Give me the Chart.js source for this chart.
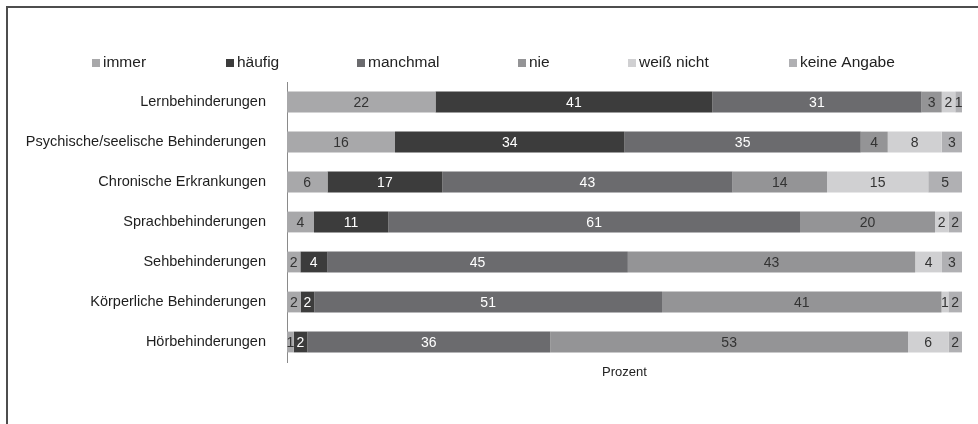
<!DOCTYPE html>
<html>
<head>
<meta charset="utf-8">
<script src="https://cdn.jsdelivr.net/npm/chart.js@4/dist/chart.umd.min.js"></script>
<style>
  html, body { margin: 0; padding: 0; background: #fff; }
  #wrap { position: relative; width: 978px; height: 424px; overflow: hidden; }
  #frame { position: absolute; left: 6px; top: 6px; width: 1200px; height: 600px;
           border-left: 2px solid #4d4d4d; border-top: 2px solid #4d4d4d; pointer-events: none; }
  canvas { position: absolute; left: 0; top: 0; }
</style>
</head>
<body>
<div id="wrap">
  <canvas id="c" width="978" height="424"></canvas>
  <div id="frame"></div>
</div>
<script>
const categories = [
  "Lernbehinderungen",
  "Psychische/seelische Behinderungen",
  "Chronische Erkrankungen",
  "Sprachbehinderungen",
  "Sehbehinderungen",
  "Körperliche Behinderungen",
  "Hörbehinderungen"
];
const seriesNames = ["immer", "häufig", "manchmal", "nie", "weiß nicht", "keine Angabe"];
const immer       = [22, 16,  6,  4,  2,  2,  1];
const haeufig     = [41, 34, 17, 11,  4,  2,  2];
const manchmal    = [31, 35, 43, 61, 45, 51, 36];
const nie         = [ 3,  4, 14, 20, 43, 41, 53];
const weissNicht  = [ 2,  8, 15,  2,  4,  1,  6];
const keineAngabe = [ 1,  3,  5,  2,  3,  2,  2];
const axisTitle = "Prozent";

const seriesValues = [immer, haeufig, manchmal, nie, weissNicht, keineAngabe];
// 100% stacked: each row is scaled to its own total (rounded values may sum to 99/101)
const rowTotals = categories.map((_, i) => seriesValues.reduce((s, arr) => s + arr[i], 0));
const colors = ["#a8a8aa", "#3c3c3c", "#6b6b6e", "#949496", "#d0d0d2", "#b0b0b3"];
const labelColors = ["#333", "#fff", "#fff", "#333", "#333", "#333"];
const legendX = [92, 226, 357, 518, 628, 789];
const FONT = '"Liberation Sans", Arial, sans-serif';

const valueLabels = {
  id: 'valueLabels',
  afterDatasetsDraw(chart) {
    const ctx = chart.ctx;
    ctx.save();
    ctx.font = '14px ' + FONT;
    ctx.textAlign = 'center';
    ctx.textBaseline = 'middle';
    chart.data.datasets.forEach((ds, di) => {
      const meta = chart.getDatasetMeta(di);
      meta.data.forEach((el, i) => {
        ctx.fillStyle = labelColors[di];
        ctx.fillText(String(seriesValues[di][i]), (el.x + el.base) / 2, el.y + 1);
      });
    });
    ctx.restore();
  }
};

const customLegend = {
  id: 'customLegend',
  afterDraw(chart) {
    const ctx = chart.ctx;
    ctx.save();
    ctx.font = '15.5px ' + FONT;
    ctx.textBaseline = 'middle';
    ctx.textAlign = 'left';
    seriesNames.forEach((name, i) => {
      const x = legendX[i];
      ctx.fillStyle = colors[i];
      ctx.fillRect(x, 59, 8, 8);
      ctx.fillStyle = '#222';
      ctx.fillText(name, x + 11, 63);
    });
    ctx.restore();
  }
};

new Chart(document.getElementById('c'), {
  type: 'bar',
  data: {
    labels: categories,
    datasets: seriesNames.map((n, i) => ({
      label: n,
      data: seriesValues[i].map((v, j) => v / rowTotals[j] * 100),
      backgroundColor: colors[i],
      borderWidth: 0,
      barPercentage: 0.52,
      categoryPercentage: 1
    }))
  },
  options: {
    indexAxis: 'y',
    responsive: false,
    animation: false,
    layout: { padding: { left: 0, right: 16, top: 82, bottom: 44 } },
    plugins: { legend: { display: false }, tooltip: { enabled: false } },
    scales: {
      x: {
        stacked: true, min: 0, max: 100,
        grid: { display: false },
        border: { display: false },
        ticks: { display: false },
        title: { display: true, text: axisTitle, color: '#222', font: { family: FONT, size: 13 }, padding: 0 },
        afterFit(s) { s.height = 18; }
      },
      y: {
        stacked: true,
        grid: { display: false, drawTicks: false },
        border: { display: true, color: '#8a8a8a', width: 1 },
        ticks: { color: '#1e1e1e', font: { family: FONT, size: 14.5 }, padding: 21 },
        afterFit(s) { s.width = 287; }
      }
    }
  },
  plugins: [valueLabels, customLegend]
});
</script>
</body>
</html>
